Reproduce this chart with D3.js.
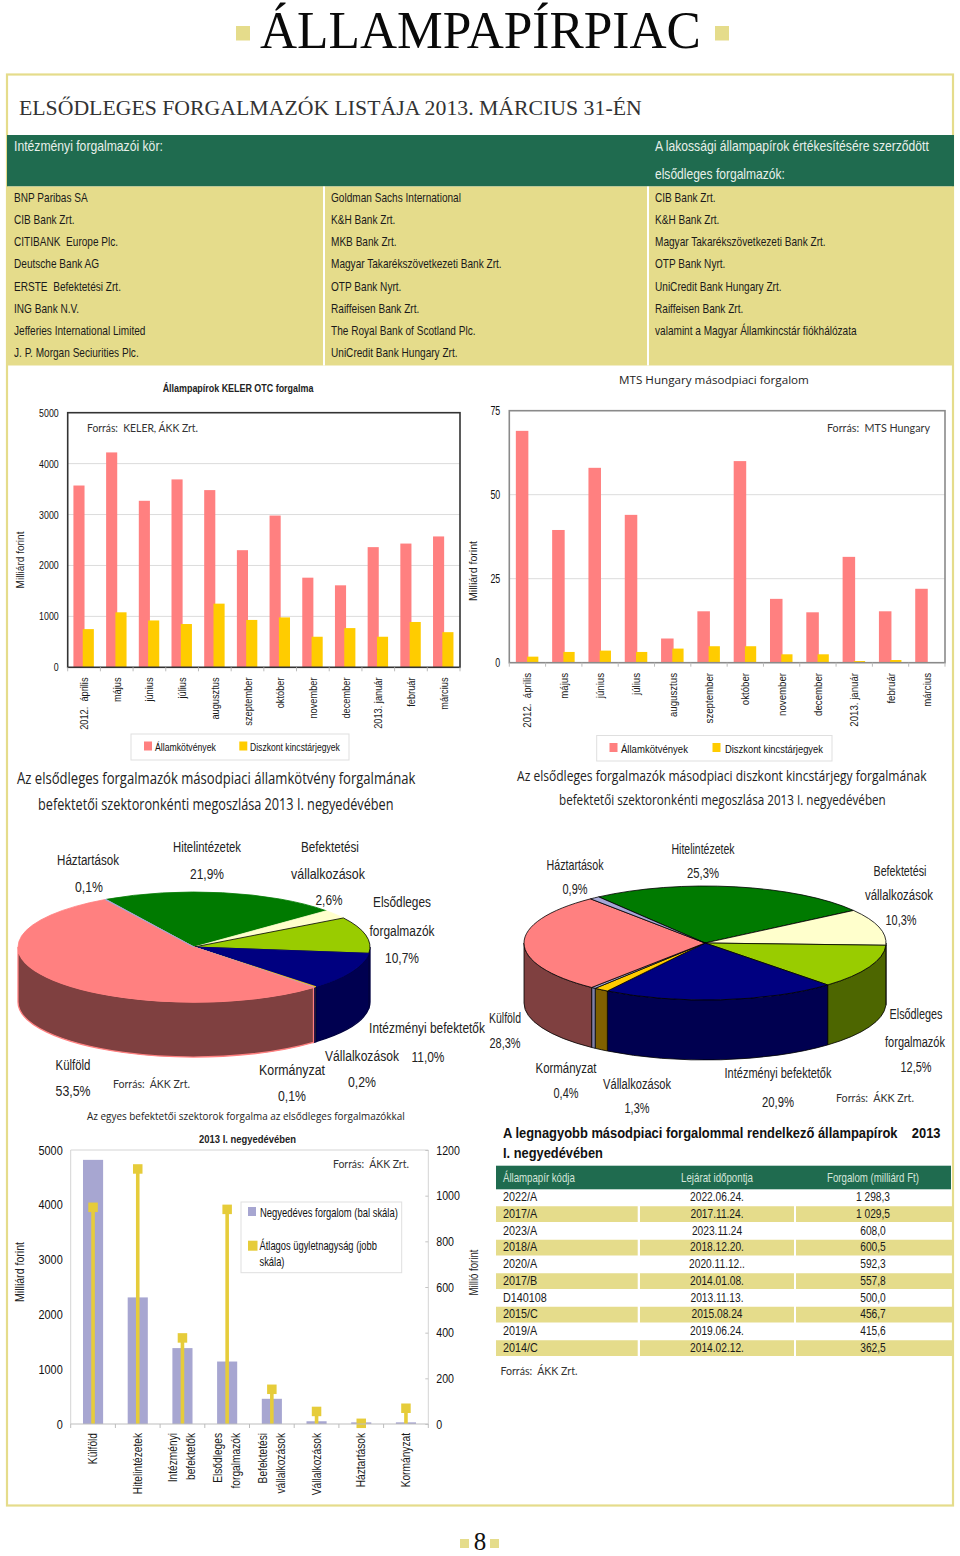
<!DOCTYPE html>
<html lang="hu"><head><meta charset="utf-8">
<style>html,body{margin:0;padding:0;background:#fff}svg{display:block}</style>
<script src="https://cdn.jsdelivr.net/npm/d3@7/dist/d3.min.js"></script>
</head><body><svg id="c" width="960" height="1556" xmlns="http://www.w3.org/2000/svg"></svg>
<script>
// ---------- DATA ----------
const dealerCol1 = ["BNP Paribas SA","CIB Bank Zrt.","CITIBANK  Europe Plc.","Deutsche Bank AG","ERSTE  Befektetési Zrt.","ING Bank N.V.","Jefferies International Limited","J. P. Morgan Seciurities Plc."];
const dealerCol2 = ["Goldman Sachs International","K&H Bank Zrt.","MKB Bank Zrt.","Magyar Takarékszövetkezeti Bank Zrt.","OTP Bank Nyrt.","Raiffeisen Bank Zrt.","The Royal Bank of Scotland Plc.","UniCredit Bank Hungary Zrt."];
const dealerCol3 = ["CIB Bank Zrt.","K&H Bank Zrt.","Magyar Takarékszövetkezeti Bank Zrt.","OTP Bank Nyrt.","UniCredit Bank Hungary Zrt.","Raiffeisen Bank Zrt.","valamint a Magyar Államkincstár fiókhálózata"];
const months = ["2012.  április","május","június","július","augusztus","szeptember","október","november","december","2013. január","február","március"];
const kelerBonds = [3570,4220,3270,3690,3480,2300,2980,1760,1610,2360,2430,2570];
const kelerBills = [750,1080,920,850,1250,930,980,600,770,600,890,690];
const kelerTicks = [0,1000,2000,3000,4000,5000];
const mtsBonds = [69,39.5,58,44,7.2,15.3,60,19,15,31.5,15.3,22];
const mtsBills = [1.8,3.2,3.6,3.2,4.2,4.9,4.9,2.5,2.5,0.5,0.8,0];
const mtsTicks = [0,25,50,75];
const pieSectors = ["Hitelintézetek","Befektetési vállalkozások","Elsődleges forgalmazók","Intézményi befektetők","Vállalkozások","Kormányzat","Külföld","Háztartások"];
const pieBondShare = [21.9,2.6,10.7,11.0,0.2,0.1,53.5,0.1];
const pieBillShare = [25.3,10.3,12.5,20.9,1.3,0.4,28.3,0.9];
const pieTop = ["#007a00","#ffffcc","#99cc00","#000080","#ffcc00","#a6a6d6","#ff8080","#a6a6d6"];
const pieSide = ["#004000","#808066","#4d6600","#000050","#806000","#8080a8","#7f4040","#8080a8"];
const sectorCats = [["Külföld"],["Hitelintézetek"],["Intézményi","befektetők"],["Elsődleges","forgalmazók"],["Befektetési","vállalkozások"],["Vállalkozások"],["Háztartások"],["Kormányzat"]];
const sectorTurnover = [4820,2310,1385,1140,460,50,30,30];
const sectorAvgDeal = [949,1117,377,940,152,55,3,69];
const leftTicks3 = [0,1000,2000,3000,4000,5000];
const rightTicks3 = [0,200,400,600,800,1000,1200];
const topCodes = ["2022/A","2017/A","2023/A","2018/A","2020/A","2017/B","D140108","2015/C","2019/A","2014/C"];
const topMaturity = ["2022.06.24.","2017.11.24.","2023.11.24","2018.12.20.","2020.11.12..","2014.01.08.","2013.11.13.","2015.08.24","2019.06.24.","2014.02.12."];
const topTurnover = ["1 298,3","1 029,5","608,0","600,5","592,3","557,8","500,0","456,7","415,6","362,5"];

// ---------- HELPERS ----------
const svg = d3.select("#c");
const SANS="'Liberation Sans',Arial,sans-serif", SERIF="'Liberation Serif',serif", SOFT="'Lato','Open Sans',sans-serif", MYR="'Open Sans',sans-serif";
const KHAKI="#e5dc8b", GREEN="#1f6b4f", PINK="#ff8080", YEL="#ffcc00";
function fit(node,o){
  if(o.cond){ node.setAttribute("textLength",(node.getComputedTextLength()*o.cond).toFixed(2)); node.setAttribute("lengthAdjust","spacingAndGlyphs"); }
}
function t(p,x,y,str,o={}){
  const s=p.append("text").attr("font-family",o.font||SANS).attr("font-size",o.size||12)
    .attr("fill",o.fill||"#111").attr("text-anchor",o.anchor||"start").attr("font-weight",o.weight||"normal")
    .style("white-space","pre").text(str);
  const nat=s.node().getComputedTextLength();
  const sx=o.w?o.w/nat:(o.cond||1);
  s.attr("transform",`translate(${x},${y})${o.rot?` rotate(${o.rot})`:""} scale(${sx.toFixed(4)},1)`);
  return s;
}
function rect(p,x,y,w,h,fill,extra={}){
  const r=p.append("rect").attr("x",x).attr("y",y).attr("width",w).attr("height",h).attr("fill",fill);
  Object.entries(extra).forEach(([k,v])=>r.attr(k,v)); return r;
}

// ---------- PAGE FRAME & TITLE ----------
rect(svg,7,74.5,946,1431,"#fff",{stroke:KHAKI,"stroke-width":2.2});
t(svg,260,48,"ÁLLAMPAPÍRPIAC",{font:SERIF,size:53,w:441,fill:"#0a0a0a"});
rect(svg,236,26,14,14.5,KHAKI); rect(svg,715,26,14,14.5,KHAKI);
t(svg,19,115,"ELSŐDLEGES FORGALMAZÓK LISTÁJA 2013. MÁRCIUS 31-ÉN",{font:SERIF,size:22,w:623,fill:"#333"});

// ---------- DEALER TABLE ----------
rect(svg,7,135,947,51.5,GREEN);
t(svg,14,151,"Intézményi forgalmazói kör:",{size:14,w:149,fill:"#e8f0ea"});
t(svg,655,151,"A lakossági állampapírok értékesítésére szerződött",{size:14,w:274,fill:"#e8f0ea"});
t(svg,655,178.5,"elsődleges forgalmazók:",{size:14,w:130,fill:"#e8f0ea"});
rect(svg,7,186.5,947,179,KHAKI);
rect(svg,323,186.5,2,179,"#fff"); rect(svg,647,186.5,2,179,"#fff");
const rowY = d3.scaleLinear().domain([0,7]).range([202,357]);
[[dealerCol1,14],[dealerCol2,331],[dealerCol3,655]].forEach(([col,x])=>col.forEach((s,i)=>t(svg,x,rowY(i),s,{size:12,cond:.84,fill:"#1a1a1a"})));

// ---------- GROUPED BAR CHARTS ----------
function grouped(c){
  const g=svg.append("g");
  const x=d3.scaleBand().domain(months).range([c.x0,c.x1]);
  const y=d3.scaleLinear().domain([0,c.max]).range([c.y1,c.y0]);
  const b=x.bandwidth();
  g.selectAll(null).data(c.ticks.slice(1,-1)).join("line").attr("x1",c.x0).attr("x2",c.x1)
    .attr("y1",d=>y(d)).attr("y2",d=>y(d)).attr("stroke","#dcdcdc").attr("stroke-width",1);
  g.selectAll(null).data(months).join("rect").attr("x",d=>x(d)+b*c.p0).attr("width",b*c.pw)
    .attr("y",(d,i)=>y(c.a[i])).attr("height",(d,i)=>c.y1-y(c.a[i])).attr("fill",PINK);
  g.selectAll(null).data(months).join("rect").attr("x",d=>x(d)+b*c.q0).attr("width",b*c.qw)
    .attr("y",(d,i)=>y(c.b[i])).attr("height",(d,i)=>c.y1-y(c.b[i])).attr("fill",YEL);
  rect(g,c.x0,c.y0,c.x1-c.x0,c.y1-c.y0,"none",{stroke:c.border,"stroke-width":c.bw});
  g.selectAll(null).data(months.concat(["$"])).join("line")
    .attr("x1",d=>d==="$"?c.x1:x(d)).attr("x2",d=>d==="$"?c.x1:x(d))
    .attr("y1",c.y1).attr("y2",c.y1+4).attr("stroke","#bbb");
  const ax=g.append("g").attr("transform",`translate(${c.x0},0)`)
    .call(d3.axisLeft(y).tickValues(c.ticks).tickSize(0).tickPadding(c.pad).tickFormat(d3.format("d")));
  ax.select(".domain").remove();
  ax.selectAll("text").attr("font-family",SANS).attr("font-size",c.tsize).attr("fill","#111").each(function(){fit(this,{cond:c.tcond})});
  months.forEach(m=>t(g,x(m)+b/2+4,c.labY,m,{rot:-90,anchor:"end",size:c.lsize,cond:.84,fill:"#1a1a1a"}));
  t(g,c.yLabX,c.yLabY,"Milliárd forint",{rot:-90,anchor:"middle",size:11.5,w:c.yLabW,fill:"#222"});
  const L=c.legend;
  rect(g,L.x,L.y,L.w,L.h,"#fff",{stroke:"#dfdfdf"});
  rect(g,L.s1,L.y+7.5,8,9,PINK); t(g,L.t1,L.y+17,"Államkötvények",{size:11,w:L.w1});
  rect(g,L.s2,L.y+7.5,8,9,YEL);  t(g,L.t2,L.y+17,"Diszkont kincstárjegyek",{size:11,w:L.w2});
}
grouped({x0:67.7,x1:460,y0:412.7,y1:667.3,max:5000,ticks:kelerTicks,a:kelerBonds,b:kelerBills,p0:.175,pw:.34,q0:.46,qw:.34,
  border:"#333",bw:1.6,pad:9,tsize:11,tcond:.8,labY:677.5,lsize:11,yLabX:24,yLabY:560,yLabW:57,
  legend:{x:131,y:734,w:218,h:26,s1:144,t1:155,w1:61,s2:239.3,t2:250,w2:90}});
t(svg,238,392,"Állampapírok KELER OTC forgalma",{anchor:"middle",weight:"bold",size:11.5,w:151,fill:"#222"});
t(svg,87,431.5,"Forrás:  KELER, ÁKK Zrt.",{font:SOFT,size:11.5,w:111,fill:"#333"});
grouped({x0:509.3,x1:945,y0:410.7,y1:662.7,max:75,ticks:mtsTicks,a:mtsBonds,b:mtsBills,p0:.18,pw:.345,q0:.49,qw:.31,
  border:"#8a8a8a",bw:1.6,pad:9,tsize:12,tcond:.74,labY:673,lsize:11.5,yLabX:477,yLabY:571,yLabW:60,
  legend:{x:596.7,y:735.5,w:235.3,h:25.5,s1:609.5,t1:621,w1:67,s2:712.5,t2:725,w2:98}});
t(svg,619,384,"MTS Hungary másodpiaci forgalom",{font:MYR,size:11,w:190,fill:"#222"});
t(svg,827,431.5,"Forrás:  MTS Hungary",{font:SOFT,size:11.5,w:103,fill:"#333"});

// ---------- SUBTITLES ----------
t(svg,17,784,"Az elsődleges forgalmazók másodpiaci államkötvény forgalmának",{font:MYR,size:15.5,w:399,fill:"#222"});
t(svg,38,810,"befektetői szektoronkénti megoszlása 2013 I. negyedévében",{font:MYR,size:15.5,w:356,fill:"#222"});
t(svg,517,780.5,"Az elsődleges forgalmazók másodpiaci diszkont kincstárjegy forgalmának",{font:MYR,size:14.5,w:410,fill:"#222"});
t(svg,559,805,"befektetői szektoronkénti megoszlása 2013 I. negyedévében",{font:MYR,size:14.5,w:327,fill:"#222"});

// ---------- 3D PIES ----------
function pie3d(c){
  const arcs=d3.pie().sort(null).value(d=>d).startAngle(c.start).endAngle(c.start+2*Math.PI)(c.values);
  const g=svg.append("g");
  const pt=(a,dy=0)=>[c.cx+c.rx*Math.sin(a),c.cy-c.ry*Math.cos(a)+dy];
  arcs.forEach((d,i)=>{
    [-1,0,1].forEach(k=>{
      const a0=Math.max(d.startAngle,Math.PI/2+2*Math.PI*k), a1=Math.min(d.endAngle,3*Math.PI/2+2*Math.PI*k);
      if(a1<=a0) return;
      const p0=pt(a0),p1=pt(a1),q1=pt(a1,c.depth),q0=pt(a0,c.depth);
      g.append("path")
       .attr("d",`M${p0}A${c.rx},${c.ry} 0 0 1 ${p1}L${q1}A${c.rx},${c.ry} 0 0 0 ${q0}Z`)
       .attr("fill",pieSide[i]).attr("stroke",c.sideStroke(i)).attr("stroke-width",c.sideW);
    });
  });
  const arc=d3.arc().innerRadius(0).outerRadius(c.rx);
  const top=g.append("g").attr("transform",`translate(${c.cx},${c.cy}) scale(1,${c.ry/c.rx})`);
  top.selectAll(null).data(arcs).join("path").attr("d",arc).attr("fill",(d,i)=>pieTop[i])
    .attr("stroke",(d,i)=>c.topStroke(i)).attr("stroke-width",c.topW).attr("vector-effect","non-scaling-stroke");
}
pie3d({values:pieBondShare,start:-30*Math.PI/180,cx:194,cy:947,rx:176,ry:55,depth:55,sideW:1.3,
  sideStroke:i=>i===6?PINK:"#000040",topStroke:i=>i===2?"#000":pieTop[i],topW:.8});
pie3d({values:pieBillShare,start:-36*Math.PI/180,cx:705,cy:943,rx:181,ry:57,depth:60,sideW:.8,
  sideStroke:()=>"#000",topStroke:()=>"#000",topW:.8});
const PL={size:15,fill:"#222",anchor:"middle"};
[["Háztartások",88,865,62],["0,1%",89,892,28],["Hitelintézetek",207,852,68],["21,9%",207,879,34],
 ["Befektetési",330,852,58],["vállalkozások",328,879,74],["2,6%",329,905,27],
 ["Elsődleges",402,907,58],["forgalmazók",402,936,65],["10,7%",402,963,34],
 ["Intézményi befektetők",427,1033,116],["11,0%",428,1062,33],
 ["Vállalkozások",362,1061,74],["0,2%",362,1087,28],["Kormányzat",292,1075,66],["0,1%",292,1101,28],
 ["Külföld",73,1070,35],["53,5%",73,1096,35],
 ["Háztartások",575,870,57],["0,9%",575,894,25],["Hitelintézetek",703,854,63],["25,3%",703,878,32],
 ["Befektetési",900,876,53],["vállalkozások",899,900,68],["10,3%",901,925,31],
 ["Elsődleges",916,1019,53],["forgalmazók",915,1047,60],["12,5%",916,1072,31],
 ["Intézményi befektetők",778,1078,107],["20,9%",778,1107,32],
 ["Vállalkozások",637,1089,68],["1,3%",637,1113,25],["Kormányzat",566,1073,61],["0,4%",566,1098,25],
 ["Külföld",505,1023,32],["28,3%",505,1048,31]
].forEach(([s,x,y,w])=>t(svg,x,y,s,{...PL,w}));
t(svg,113,1088,"Forrás:  ÁKK Zrt.",{font:SOFT,size:11.5,w:77,fill:"#333"});
t(svg,836,1101.5,"Forrás:  ÁKK Zrt.",{font:SOFT,size:11.5,w:78,fill:"#333"});

// ---------- SECTOR COMBO CHART ----------
(function(){
  const x0=70.7,x1=428.3,y0=1150,y1=1424;
  const g=svg.append("g");
  const names=sectorCats.map(d=>d.join(" "));
  const x=d3.scaleBand().domain(names).range([x0,x1]).paddingInner(.55).paddingOuter(.275);
  const yL=d3.scaleLinear().domain([0,5000]).range([y1,y0]);
  const yR=d3.scaleLinear().domain([0,1200]).range([y1,y0]);
  const step=x.step(), cx=d=>x(d)+x.bandwidth()/2;
  g.append("path").attr("d",`M${x0},${y1}V${y0}H${x1}V${y1}`).attr("fill","none").attr("stroke","#d4d4d4");
  g.selectAll(null).data(names).join("rect").attr("x",d=>x(d)).attr("width",x.bandwidth())
    .attr("y",(d,i)=>yL(sectorTurnover[i])).attr("height",(d,i)=>y1-yL(sectorTurnover[i])).attr("fill","#a7a6d1");
  g.selectAll(null).data(names).join("line").attr("x1",cx).attr("x2",cx).attr("y1",y1)
    .attr("y2",(d,i)=>yR(sectorAvgDeal[i])).attr("stroke","#e6cc3a").attr("stroke-width",3.6);
  const M=9.5;
  g.selectAll(null).data(names).join("rect").attr("x",d=>cx(d)-M/2).attr("width",M).attr("height",M)
    .attr("y",(d,i)=>yR(sectorAvgDeal[i])-M/2).attr("fill","#e6cc3a");
  g.append("line").attr("x1",x0).attr("x2",x1).attr("y1",y1).attr("y2",y1).attr("stroke","#bdbdbd");
  g.selectAll(null).data(d3.range(names.length+1)).join("line").attr("x1",d=>x0+d*step).attr("x2",d=>x0+d*step)
    .attr("y1",y1).attr("y2",y1+4).attr("stroke","#bdbdbd");
  const axL=g.append("g").attr("transform",`translate(${x0},0)`)
    .call(d3.axisLeft(yL).tickValues(leftTicks3).tickSize(0).tickPadding(8).tickFormat(d3.format("d")));
  axL.select(".domain").remove();
  axL.selectAll("text").attr("font-family",SANS).attr("font-size",12.5).attr("fill","#111").each(function(){fit(this,{cond:.87})});
  const axR=g.append("g").attr("transform",`translate(${x1},0)`)
    .call(d3.axisRight(yR).tickValues(rightTicks3).tickSize(-3).tickPadding(8).tickFormat(d3.format("d")));
  axR.select(".domain").remove();
  axR.selectAll("line").attr("stroke","#c4c4c4");
  axR.selectAll("text").attr("x",8).attr("font-family",SANS).attr("font-size",12.5).attr("fill","#111").each(function(){fit(this,{cond:.85})});
  sectorCats.forEach((lines,i)=>lines.forEach((s,j)=>{
    t(g,cx(names[i])+4+(j-(lines.length-1)/2)*18,1433,s,{rot:-90,anchor:"end",size:12,cond:.85,fill:"#1a1a1a"});
  }));
  t(g,23.5,1272,"Milliárd forint",{rot:-90,anchor:"middle",size:12,w:60,fill:"#222"});
  t(g,478,1272.5,"Millió forint",{rot:-90,anchor:"middle",size:12,w:46,fill:"#222"});
  t(g,87,1120,"Az egyes befektetői szektorok forgalma az elsődleges forgalmazókkal",{font:MYR,size:11,w:318,fill:"#222"});
  t(g,247.5,1142.5,"2013 I. negyedévében",{anchor:"middle",weight:"bold",size:11.5,w:97,fill:"#222"});
  t(g,333,1168,"Forrás:  ÁKK Zrt.",{font:SOFT,size:11.5,w:76,fill:"#333"});
  rect(g,241,1202,160.7,70.7,"#fff",{stroke:"#dfdfdf"});
  rect(g,248,1207,8,9,"#a7a6d1");
  t(g,260,1216.5,"Negyedéves forgalom (bal skála)",{size:12,w:138});
  rect(g,248,1240.7,9.5,10,"#e6cc3a");
  t(g,259.5,1250,"Átlagos ügyletnagyság (jobb",{size:12,w:117.5});
  t(g,259.5,1266,"skála)",{size:12,w:25});
})();

// ---------- TOP SECURITIES TABLE ----------
t(svg,503,1138.3,"A legnagyobb másodpiaci forgalommal rendelkező állampapírok    2013",{weight:"bold",size:14,w:438,fill:"#111"});
t(svg,503,1157.5,"I. negyedévében",{weight:"bold",size:14,w:100,fill:"#111"});
rect(svg,496,1165.7,455,23.6,GREEN);
t(svg,503,1181.7,"Állampapír kódja",{size:12,w:72,fill:"#d5e5da"});
t(svg,717,1181.7,"Lejárat időpontja",{size:12,w:72,anchor:"middle",fill:"#d5e5da"});
t(svg,873,1181.7,"Forgalom (milliárd Ft)",{size:12,w:92,anchor:"middle",fill:"#d5e5da"});
const rowScale=d3.scaleBand().domain(topCodes).range([1189,1356.5]);
topCodes.forEach((code,i)=>{
  const top=rowScale(code), h=rowScale.bandwidth();
  if(i%2){ rect(svg,496,top+.5,141.7,h-1,KHAKI); rect(svg,640,top+.5,154,h-1,KHAKI); rect(svg,796,top+.5,157,h-1,KHAKI); }
  t(svg,503,top+12,code,{size:12,cond:.9,fill:"#1a1a1a"});
  t(svg,717,top+12,topMaturity[i],{size:12,cond:.85,anchor:"middle",fill:"#1a1a1a"});
  t(svg,873,top+12,topTurnover[i],{size:12,cond:.85,anchor:"middle",fill:"#1a1a1a"});
});
t(svg,500.5,1375,"Forrás:  ÁKK Zrt.",{font:SOFT,size:11.5,w:77,fill:"#333"});

// ---------- PAGE NUMBER ----------
t(svg,480,1549.5,"8",{font:SERIF,size:25,anchor:"middle",fill:"#111"});
rect(svg,460,1539,9,9,KHAKI); rect(svg,490,1539,9,9,KHAKI);
</script></body></html>
